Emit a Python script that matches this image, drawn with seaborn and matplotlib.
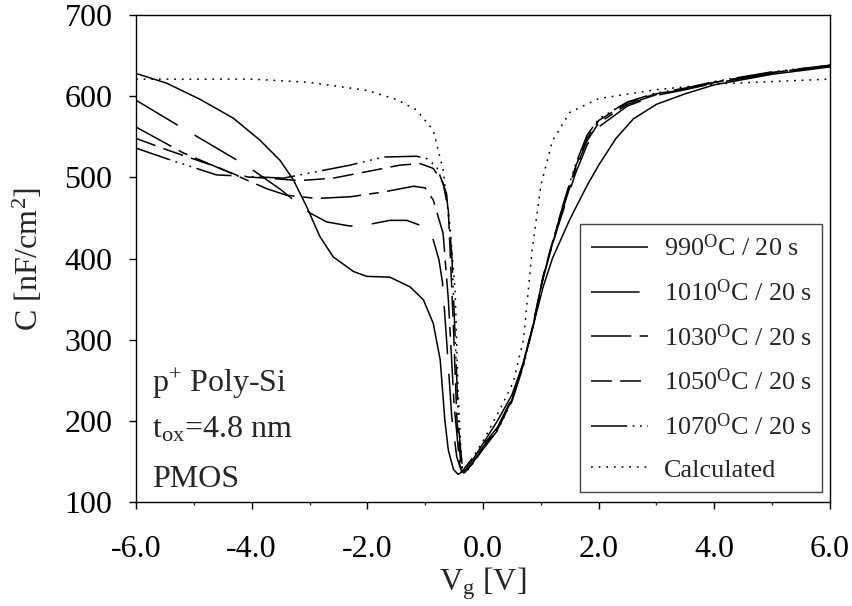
import matplotlib
matplotlib.use("Agg")
import matplotlib.pyplot as plt
import seaborn as sns
import numpy as np
import pandas as pd
from matplotlib.ticker import MultipleLocator, FormatStrFormatter

# ---------------- data ----------------
v_990 = [-6.0, -5.47, -4.89, -4.32, -3.86, -3.51, -3.28, -3.05, -2.82, -2.59, -2.24, -2.01,
         -1.61, -1.26, -1.03, -0.86, -0.74, -0.66, -0.60, -0.51, -0.43, -0.30, -0.15, 0.0,
         0.25, 0.5, 0.7, 0.87, 1.04, 1.2, 1.5, 1.8, 2.0, 2.3, 2.6, 3.0, 3.5, 4.0, 5.0, 6.0]
c_990 = [628, 616, 596, 573, 546, 521, 497, 464, 427, 402, 384, 378,
         377, 365, 349, 320, 275, 201, 164, 140, 134, 140, 155, 172,
         200, 232, 272, 318, 365, 400, 448, 490, 515, 548, 572, 590, 603, 614, 627, 636]

v_1010 = [-6.0, -5.18, -4.89, -4.06, -3.5, -2.99, -2.70, -2.30, -1.90, -1.61, -1.32, -1.09,
          -0.86, -0.76, -0.70, -0.63, -0.54, -0.455, -0.37, -0.25, 0.0, 0.25, 0.5, 0.7, 0.87,
          1.04, 1.2, 1.4, 1.6, 1.8, 2.0, 2.5, 3.0, 3.5, 4.0, 5.0, 6.0]
c_1010 = [595, 560, 548, 513, 485, 456, 445, 440, 443, 447, 447, 441,
          423, 398, 370, 300, 205, 156, 137, 148, 170, 192, 228, 272, 320,
          378, 418, 462, 505, 540, 562, 588, 601, 608, 616, 628, 637]

v_1030 = [-6.0, -5.18, -4.55, -3.74, -3.40, -2.88, -2.30, -1.72, -1.20, -1.0, -0.86, -0.69,
          -0.60, -0.50, -0.40, -0.33, -0.2, 0.0, 0.25, 0.5, 0.7, 0.87, 1.04, 1.2, 1.4, 1.6,
          1.8, 2.0, 2.5, 3.0, 3.5, 4.0, 5.0, 6.0]
c_1030 = [562, 530, 511, 486, 478, 474, 476, 482, 489, 487, 472, 431,
          350, 220, 145, 136, 146, 168, 190, 226, 270, 318, 376, 417, 465, 510,
          545, 567, 590, 602, 609, 617, 629, 638]

v_1050 = [-6.0, -5.47, -4.61, -4.20, -3.74, -3.17, -2.59, -2.01, -1.44, -1.09, -0.86, -0.69,
          -0.60, -0.52, -0.45, -0.38, -0.32, -0.2, 0.0, 0.25, 0.5, 0.7, 0.87, 1.04, 1.2, 1.4,
          1.6, 1.8, 2.0, 2.5, 3.0, 3.5, 4.0, 5.0, 6.0]
c_1050 = [548, 534, 513, 501, 499, 496, 499, 507, 515, 517, 511, 493,
          460, 330, 200, 145, 136, 146, 167, 189, 225, 270, 320, 378, 420, 468,
          513, 548, 570, 592, 603, 609, 617, 629, 638]

v_1070 = [-6.0, -5.47, -4.61, -4.03, -3.45, -2.88, -2.30, -1.72, -1.15, -0.97, -0.80, -0.63,
          -0.54, -0.48, -0.42, -0.36, -0.31, -0.2, 0.0, 0.25, 0.5, 0.7, 0.87, 1.04, 1.2, 1.4,
          1.6, 1.8, 2.0, 2.5, 3.0, 3.5, 4.0, 5.0, 6.0]
c_1070 = [536, 523, 503, 501, 499, 507, 515, 525, 526, 523, 513, 480,
          406, 300, 190, 145, 136, 145, 165, 188, 224, 268, 318, 376, 420, 470,
          516, 552, 572, 593, 604, 610, 618, 630, 638]

v_calc = [-6.0, -4.0, -3.0, -2.5, -2.0, -1.5, -1.15, -0.86, -0.69, -0.57, -0.48, -0.43,
          -0.38, -0.35, -0.2, 0.0, 0.3, 0.52, 0.7, 0.85, 1.0, 1.2, 1.5, 2.0, 3.0, 4.0, 6.0]
c_calc = [621, 621, 617, 612, 607, 596, 583, 558, 509, 439, 357, 234,
          160, 135, 152, 175, 215, 247, 300, 410, 490, 545, 580, 597, 608, 615, 621]

labels = ['990$^{\\rm O}$C / 20 s', '1010$^{\\rm O}$C / 20 s', '1030$^{\\rm O}$C / 20 s',
          '1050$^{\\rm O}$C / 20 s', '1070$^{\\rm O}$C / 20 s', 'Calculated']
x_ticks = [-6, -4, -2, 0, 2, 4, 6]
y_ticks = [100, 200, 300, 400, 500, 600, 700]

# ---------------- style ----------------
sns.set_style('ticks')
plt.rcParams['font.family'] = ['Liberation Serif', 'DejaVu Serif']
plt.rcParams['mathtext.fontset'] = 'custom'
plt.rcParams['mathtext.rm'] = 'Liberation Serif'
plt.rcParams['mathtext.it'] = 'Liberation Serif:italic'
plt.rcParams['mathtext.bf'] = 'Liberation Serif:bold'
plt.rcParams['axes.unicode_minus'] = False
plt.rcParams['lines.scale_dashes'] = False

fig = plt.figure(figsize=(8.53, 6.06), dpi=100)
ax = fig.add_axes([136/853, 1-502/606, 694/853, 487/606])

series = [
    (v_990, c_990, (0, ())),
    (v_1010, c_1010, (0, (35, 14))),
    (v_1030, c_1030, (0, (29, 6, 7, 6))),
    (v_1050, c_1050, (0, (15, 6))),
    (v_1070, c_1070, (0, (26, 4, 1.3, 4, 1.3, 4, 1.3, 4))),
    (v_calc, c_calc, (0, (1.3, 4.2))),
]
for (vx, cy, ls), lab in zip(series, labels):
    df = pd.DataFrame({'V': vx, 'C': cy})
    sns.lineplot(data=df, x='V', y='C', ax=ax, sort=False, estimator=None,
                 color='black', linewidth=1.1, linestyle=ls, label=lab)

ax.set_xlim(-6, 6)
ax.set_ylim(100, 700)
ax.set_xticks(x_ticks)
ax.set_yticks(y_ticks)
ax.xaxis.set_major_formatter(FormatStrFormatter('%.1f'))
ax.xaxis.set_minor_locator(MultipleLocator(1))
ax.tick_params(axis='both', which='major', direction='out', length=5, width=1,
               labelsize=23, colors='black')
ax.tick_params(axis='x', which='major', pad=19)
ax.tick_params(axis='y', which='major', pad=12)
ax.tick_params(axis='x', which='minor', direction='out', length=2.5, width=1)
ax.tick_params(top=False, right=False)
for s in ax.spines.values():
    s.set_visible(True)
    s.set_color('black')
    s.set_linewidth(1.0)

ax.set_xlabel('V$_{\\rm g}$ [V]', fontsize=23, labelpad=1)
ax.set_ylabel('C [nF/cm$^{2}$]', fontsize=23, labelpad=14)

ax.text(-5.72, 235, 'p$^{+}$ Poly-Si', fontsize=23, va='baseline', ha='left')
ax.text(-5.72, 179, 't$_{\\rm ox}$=4.8 nm', fontsize=23, va='baseline', ha='left')
ax.text(-5.72, 118, 'PMOS', fontsize=23, va='baseline', ha='left')

leg = ax.legend(loc='lower right', bbox_to_anchor=(822/853, 1-492/606),
                bbox_transform=fig.transFigure, borderaxespad=0, fontsize=18.8,
                handlelength=2.2, handletextpad=0.6, labelspacing=0.7,
                fancybox=False, frameon=True, borderpad=0.4)
leg.get_frame().set_edgecolor('#444444')
leg.get_frame().set_linewidth(1.0)
leg.get_frame().set_alpha(1)

fig.savefig('out.png', dpi=100)
